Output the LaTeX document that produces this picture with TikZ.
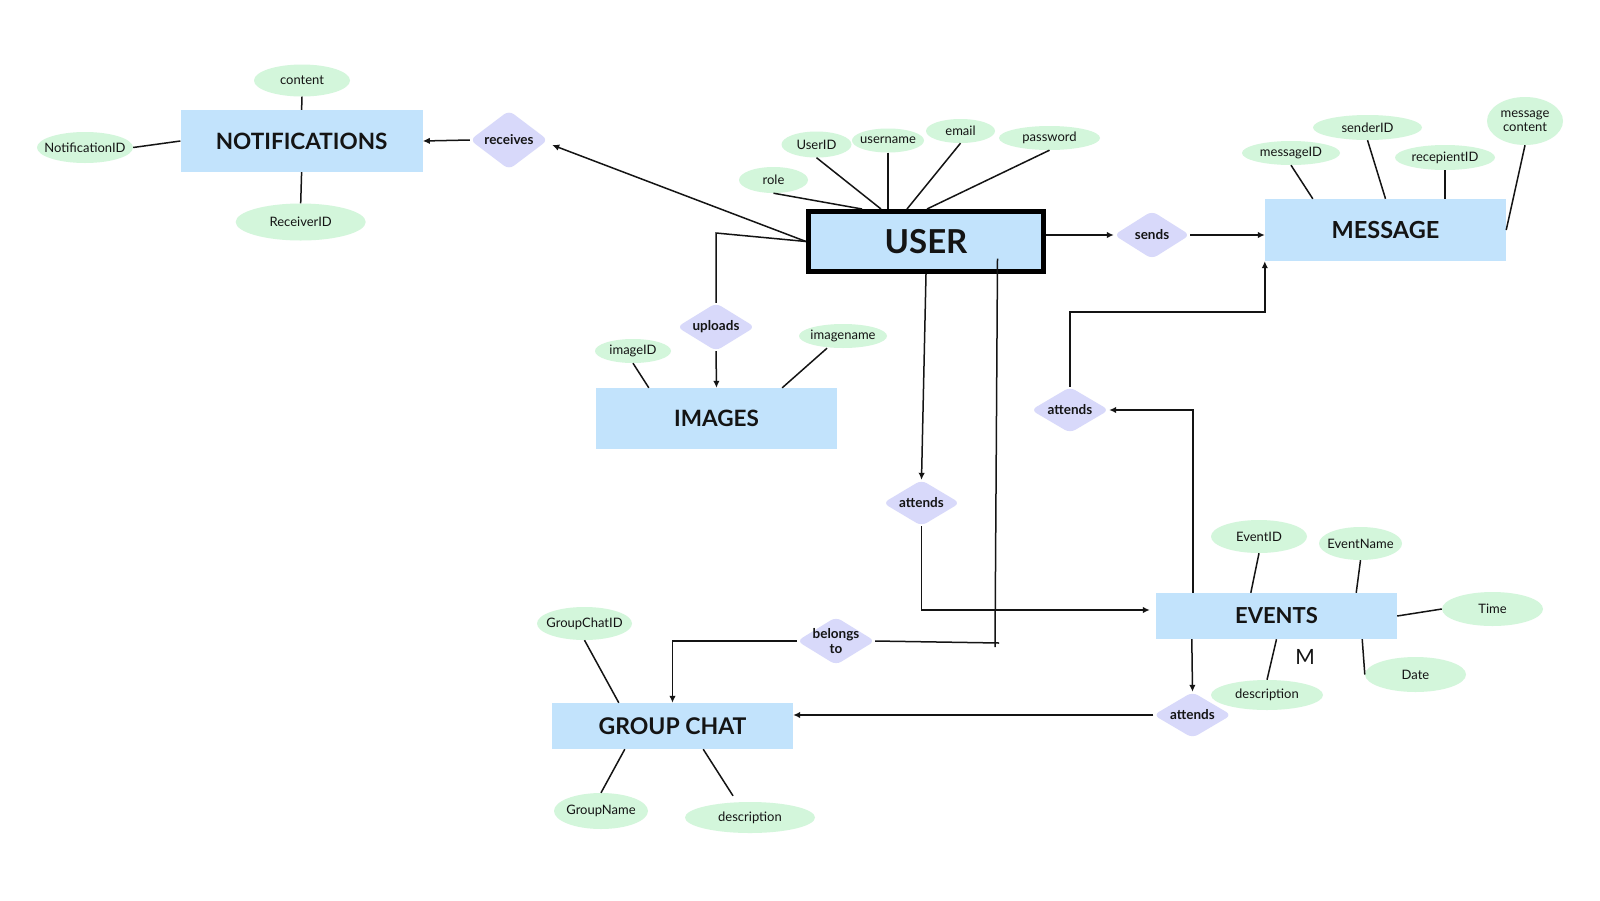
\documentclass[tikz,border=0pt]{standalone}
\usepackage{fontspec}
\setmainfont{Lato}
\usetikzlibrary{shapes.geometric,arrows.meta,calc}
\definecolor{entblue}{HTML}{C2E3FC}
\definecolor{attrgreen}{HTML}{D3F6DB}
\definecolor{relpurple}{HTML}{D8D9FA}
\definecolor{ink}{HTML}{141414}
\newcommand{\zt}[1]{\makebox[0pt]{#1}}
\begin{document}
\begin{tikzpicture}[x=1pt,y=-1pt,
  ent/.style={rectangle, fill=entblue, minimum width=241pt, minimum height=61pt, inner sep=0pt, text=ink, font=\fontsize{22.5}{24}\selectfont\bfseries},
  attr/.style={ellipse, fill=attrgreen, inner sep=0pt, text=ink, font=\fontsize{13}{15}\selectfont},
  rel/.style={diamond, fill=relpurple, inner sep=0pt, rounded corners=6pt},
  reltext/.style={inner sep=0pt, align=center, text=ink, font=\fontsize{13.5}{15}\selectfont\bfseries},
  conn/.style={line width=1.5pt, draw=ink},
  arr/.style={conn, -{Latex[length=7pt,width=6.5pt]}}
]
\fill[white] (0,0) rectangle (1600,900);
\useasboundingbox (0,0) rectangle (1600,900);

% ---------------- entities
\node[ent, minimum width=242pt, minimum height=62pt] (notif) at (301.6,141) {NOTIFICATIONS};
\node[ent, draw=black, line width=5pt, minimum width=235pt, minimum height=60pt, font=\fontsize{33}{35}\selectfont\bfseries] (user) at (926,241.5) {USER};
\node[ent, minimum height=62pt, font=\fontsize{23.5}{25}\selectfont\bfseries] (msg) at (1385.5,230) {MESSAGE};
\node[ent] (img) at (716.5,418.5) {IMAGES};
\node[ent, minimum height=46pt, font=\fontsize{22}{24}\selectfont\bfseries] (evt) at (1276.5,616) {EVENTS};
\node[ent, minimum height=46pt, font=\fontsize{23}{25}\selectfont\bfseries] (gc) at (672.5,726) {GROUP CHAT};

% ---------------- relationships
\node[rel, minimum width=78pt, minimum height=59pt] (recv) at (509,140) {};
\node[reltext] (recvT) at (recv) {receives};
\node[rel, minimum width=76pt, minimum height=48pt] (snd) at (1152,235) {};
\node[reltext] (sndT) at (snd) {sends};
\node[rel, minimum width=78pt, minimum height=48pt] (upl) at (716,327) {};
\node[reltext] (uplT) at (upl) {uploads};
\node[rel, minimum width=78pt, minimum height=46pt] (attA) at (1070,410) {};
\node[reltext] (attAT) at (attA) {attends};
\node[rel, minimum width=77pt, minimum height=46pt] (attB) at (921.5,503) {};
\node[reltext] (attBT) at (attB) {attends};
\node[rel, minimum width=78pt, minimum height=48pt] (bel) at (836,641) {};
\node[reltext] (belT) at (bel) {belongs\\to};
\node[rel, minimum width=78pt, minimum height=46pt] (attC) at (1192.5,715) {};
\node[reltext] (attCT) at (attC) {attends};

% ---------------- attributes
\node[attr, minimum width=96pt, minimum height=32pt] (cont) at (302,80.5) {\zt{content}};
\node[attr, minimum width=96pt, minimum height=31pt] (nid) at (85,147.5) {\zt{NotificationID}};
\node[attr, minimum width=130pt, minimum height=37pt] (rid) at (300.7,222) {\zt{ReceiverID}};

\node[attr, minimum width=70pt, minimum height=26pt] (uid) at (816.5,144.5) {\zt{UserID}};
\node[attr, minimum width=72pt, minimum height=24pt] (uname) at (888,140.5) {\zt{username}};
\node[attr, minimum width=69pt, minimum height=24pt] (email) at (960.5,131) {\zt{email}};
\node[attr, minimum width=101pt, minimum height=24pt] (pw) at (1049.5,138) {\zt{password}};
\node[attr, minimum width=69pt, minimum height=26pt] (role) at (773.5,180) {\zt{role}};

\node[attr, minimum width=98pt, minimum height=24pt] (mid) at (1291,153) {\zt{messageID}};
\node[attr, minimum width=109pt, minimum height=25pt] (sid) at (1367.5,127.5) {\zt{senderID}};
\node[attr, minimum width=100pt, minimum height=25pt] (rcp) at (1445,157.5) {\zt{recepientID}};
\node[attr, minimum width=76pt, minimum height=48pt, align=center, font=\fontsize{13}{14}\selectfont] (mc) at (1525,121) {message\\content};

\node[attr, minimum width=76pt, minimum height=24pt] (iid) at (633,351) {\zt{imageID}};
\node[attr, minimum width=88pt, minimum height=24pt] (iname) at (843,336) {\zt{imagename}};

\node[attr, minimum width=96pt, minimum height=33pt] (eid) at (1259,536.5) {\zt{EventID}};
\node[attr, minimum width=83pt, minimum height=33pt] (ename) at (1360.5,543.5) {\zt{EventName}};
\node[attr, minimum width=101pt, minimum height=34pt] (time) at (1492.5,609) {\zt{Time}};
\node[attr, minimum width=101pt, minimum height=35pt] (date) at (1415.5,674.5) {\zt{Date}};
\node[attr, minimum width=112pt, minimum height=30pt] (edesc) at (1267,695) {\zt{description}};

\node[attr, minimum width=95pt, minimum height=33pt] (gcid) at (584.5,623.5) {\zt{GroupChatID}};
\node[attr, minimum width=94pt, minimum height=36pt] (gname) at (601,811) {\zt{GroupName}};
\node[attr, minimum width=130pt, minimum height=31pt] (gdesc) at (750,817.5) {\zt{description}};

\node[inner sep=0pt, text=ink, font=\fontsize{21}{22}\selectfont] (mlab) at (1305,657) {M};

\coordinate (jn) at (995,643);

% ---------------- attribute lines
\draw[conn] (cont.south) -- (notif.north);
\draw[conn] (nid.east) -- (notif.west);
\draw[conn] (notif.south) -- (rid.north);

\draw[conn] (role.south) -- ([xshift=-64pt]user.north);
\draw[conn] (uid.south) -- ([xshift=-45pt]user.north);
\draw[conn] (uname.south) -- (uname.south |- user.north);
\draw[conn] (email.south) -- ([xshift=-19pt]user.north);
\draw[conn] (pw.south) -- ([xshift=1pt]user.north);

\draw[conn] (mid.south) -- ([xshift=48pt]msg.north west);
\draw[conn] (sid.south) -- (msg.north);
\draw[conn] (rcp.south) -- (rcp.south |- msg.north);
\draw[conn] (mc.south) -- (msg.east);

\draw[conn] (iid.south) -- ([xshift=53pt]img.north west);
\draw[conn] ([xshift=-16pt]iname.south) -- ([xshift=-55pt]img.north east);

\draw[conn] (eid.south) -- ([xshift=95pt]evt.north west);
\draw[conn] (ename.south) -- ([xshift=-41pt]evt.north east);
\draw[conn] (time.west) -- (evt.east);
\draw[conn] ([xshift=-35pt]evt.south east) -- (date.west);
\draw[conn] (evt.south) -- (edesc.north);

\draw[conn] (gcid.south) -- ([xshift=67pt]gc.north west);
\draw[conn] ([xshift=73pt]gc.south west) -- (gname.north);
\draw[conn] ([xshift=-90pt]gc.south east) -- ([xshift=-17pt,yshift=6pt]gdesc.north);

% ---------------- relationship connectors
\draw[arr] (user.west) -- ([xshift=4pt,yshift=-5pt]recv.east);
\draw[arr] (recv.west) -- (notif.east);
\draw[conn] (user.west) -- ([yshift=8.5pt]user.west -| upl.north) -- (upl.north);
\draw[arr] (upl.south) -- (img.north);
\draw[arr] (user.east |- snd.west) -- (snd.west);
\draw[arr] (snd.east) -- (snd.east -| msg.west);
\draw[arr] (attA.north) |- ([yshift=-51pt]msg.south west) -- (msg.south west);
\draw[arr] ([xshift=37pt]evt.north west) |- (attA.east);
\draw[arr] (user.south) -- (attB.north);
\draw[arr] (attB.south) |- ([xshift=-6pt,yshift=6pt]evt.west);
\draw[conn] ([xshift=-48.5pt,yshift=15.5pt]user.south east) -- ([yshift=-4pt]jn);
\draw[conn] (bel.east) -- ([xshift=4pt]jn);
\draw[arr] (bel.west) -| (gc.north);
\draw[arr] ([xshift=36pt]evt.south west) -- (attC.north);
\draw[arr] (attC.west) -- (attC.west -| gc.east);
\end{tikzpicture}
\end{document}
